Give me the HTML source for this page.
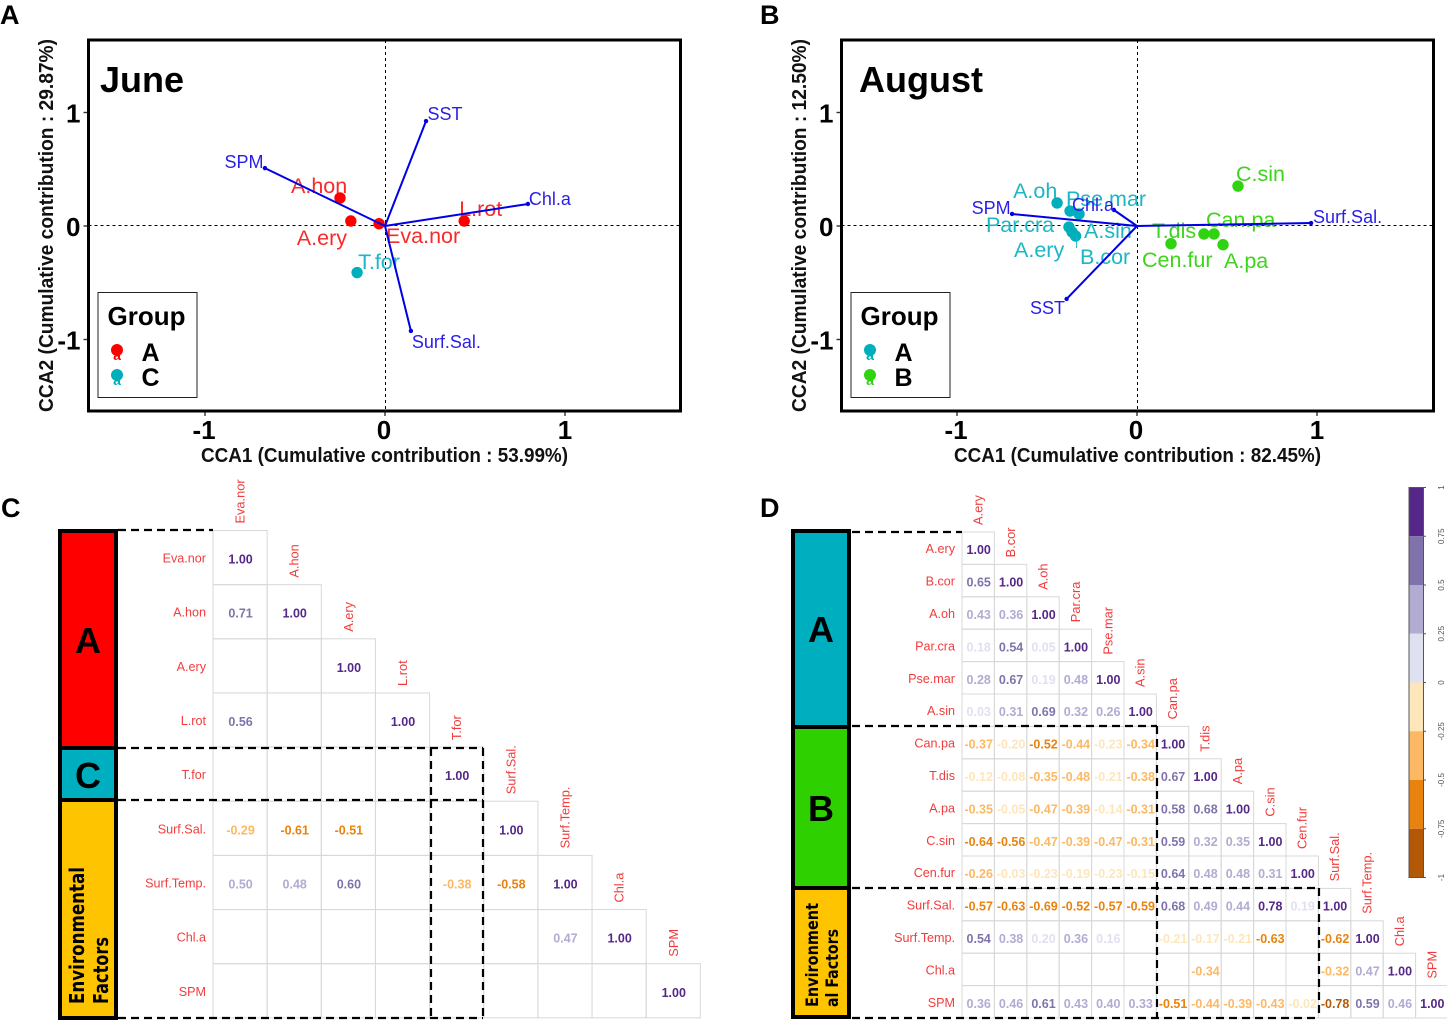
<!DOCTYPE html>
<html lang="en">
<head>
<meta charset="utf-8">
<title>CCA ordination and correlation matrices</title>
<style>
  html, body { margin: 0; padding: 0; background: #fff; }
  svg { display: block; font-family: "Liberation Sans", sans-serif; }
</style>
</head>
<body>
<svg id="figure" xmlns="http://www.w3.org/2000/svg" width="1447" height="1023" viewBox="0 0 1447 1023">
  <rect width="1447" height="1023" fill="#fff"/>

  <text x="0" y="24" font-size="27" font-weight="bold">A</text>
  <text x="760" y="24" font-size="27" font-weight="bold">B</text>
  <text x="1" y="517" font-size="27" font-weight="bold">C</text>
  <text x="760" y="517" font-size="27" font-weight="bold">D</text>

  <g id="june-plot"></g>
  <g id="august-plot"></g>

  <text x="100" y="92" font-size="36" font-weight="bold">June</text>
  <text x="859" y="92" font-size="36" font-weight="bold">August</text>

  <text x="201" y="462" font-size="20" font-weight="bold" textLength="367" lengthAdjust="spacingAndGlyphs" fill="#111">CCA1 (Cumulative contribution : 53.99%)</text>
  <text x="954" y="462" font-size="20" font-weight="bold" textLength="367" lengthAdjust="spacingAndGlyphs" fill="#111">CCA1 (Cumulative contribution : 82.45%)</text>
  <text transform="translate(53,412) rotate(-90)" font-size="20" font-weight="bold" textLength="373" lengthAdjust="spacingAndGlyphs" fill="#111">CCA2 (Cumulative contribution : 29.87%)</text>
  <text transform="translate(806,412) rotate(-90)" font-size="20" font-weight="bold" textLength="373" lengthAdjust="spacingAndGlyphs" fill="#111">CCA2 (Cumulative contribution : 12.50%)</text>

  <!-- Panel C group bars -->
  <g>
    <rect x="60" y="531" width="56" height="217" fill="#ff0000" stroke="#000" stroke-width="4"/>
    <rect x="60" y="748" width="56" height="52" fill="#00afbf" stroke="#000" stroke-width="4"/>
    <rect x="60" y="800" width="56" height="218" fill="#ffc400" stroke="#000" stroke-width="4"/>
    <text x="88" y="653" font-size="36" font-weight="bold" text-anchor="middle">A</text>
    <text x="88" y="788" font-size="36" font-weight="bold" text-anchor="middle">C</text>
    <text transform="translate(84,1004) rotate(-90)" font-family="DejaVu Sans, sans-serif" font-size="20" font-weight="bold" textLength="137" lengthAdjust="spacingAndGlyphs">Environmental</text>
    <text transform="translate(108,1004) rotate(-90)" font-family="DejaVu Sans, sans-serif" font-size="20" font-weight="bold" textLength="67" lengthAdjust="spacingAndGlyphs">Factors</text>
  </g>

  <!-- Panel D group bars -->
  <g>
    <rect x="793" y="531" width="56" height="196" fill="#00afbf" stroke="#000" stroke-width="4"/>
    <rect x="793" y="727" width="56" height="161" fill="#2fd000" stroke="#000" stroke-width="4"/>
    <rect x="793" y="888" width="56" height="129" fill="#ffc400" stroke="#000" stroke-width="4"/>
    <text x="821" y="642" font-size="36" font-weight="bold" text-anchor="middle">A</text>
    <text x="821" y="821" font-size="36" font-weight="bold" text-anchor="middle">B</text>
    <text transform="translate(818,1007) rotate(-90)" font-family="DejaVu Sans, sans-serif" font-size="17" font-weight="bold" textLength="104" lengthAdjust="spacingAndGlyphs">Environment</text>
    <text transform="translate(838,1007) rotate(-90)" font-family="DejaVu Sans, sans-serif" font-size="17" font-weight="bold" textLength="78" lengthAdjust="spacingAndGlyphs">al Factors</text>
  </g>

  <g id="matrix-c"></g>
  <g id="matrix-d"></g>

  <!-- Dashed group outlines -->
  <g fill="none" stroke="#000" stroke-width="2.2" stroke-dasharray="8 5">
    <path d="M118 530H213M118 748H483M118 800H483M118 1018H483"/>
    <path d="M431 748V1018M483 748V1018"/>
  </g>
  <g fill="none" stroke="#000" stroke-width="2.2" stroke-dasharray="8 5">
    <path d="M852 532H962M852 726H1157M852 888H1319M852 1018H1319"/>
    <path d="M1157 726V1018M1319 888V1018"/>
  </g>

  <g id="colorbar"></g>
</svg>

<script>
/* ---------- Panel A (June) data ---------- */
const juneSpecies = ["A.hon", "A.ery", "Eva.nor", "L.rot", "T.for"];
const juneSpeciesCca1 = [-0.25, -0.19, -0.033, 0.44, -0.155];
const juneSpeciesCca2 = [0.247, 0.044, 0.02, 0.044, -0.41];
const juneSpeciesGroup = ["A", "A", "A", "A", "C"];
const juneEnvVars = ["SST", "SPM", "Chl.a", "Surf.Sal."];
const juneEnvCca1 = [0.228, -0.667, 0.794, 0.144];
const juneEnvCca2 = [0.925, 0.51, 0.194, -0.925];
const juneLegendGroups = ["A", "C"];

/* ---------- Panel B (August) data ---------- */
const augustSpecies = ["A.oh", "Pse.mar", "A.sin", "Par.cra", "A.ery", "B.cor", "C.sin", "T.dis", "Can.pa", "Cen.fur", "A.pa"];
const augustSpeciesCca1 = [-0.444, -0.372, -0.322, -0.378, -0.361, -0.341, 0.561, 0.372, 0.428, 0.189, 0.478];
const augustSpeciesCca2 = [0.203, 0.132, 0.106, -0.009, -0.053, -0.088, 0.352, -0.07, -0.07, -0.156, -0.165];
const augustSpeciesGroup = ["A", "A", "A", "A", "A", "A", "B", "B", "B", "B", "B"];
const augustEnvVars = ["SPM", "Chl.a", "SST", "Surf.Sal."];
const augustEnvCca1 = [-0.694, -0.128, -0.391, 0.967];
const augustEnvCca2 = [0.106, 0.141, -0.643, 0.026];
const augustLegendGroups = ["A", "B"];

const ccaTicks = [-1, 0, 1];

/* ---------- Panel C (June correlations) data ---------- */
const juneMatrixNames = ["Eva.nor", "A.hon", "A.ery", "L.rot", "T.for", "Surf.Sal.", "Surf.Temp.", "Chl.a", "SPM"];
const juneMatrixRows = [
  [1.00],
  [0.71, 1.00],
  [null, null, 1.00],
  [0.56, null, null, 1.00],
  [null, null, null, null, 1.00],
  [-0.29, -0.61, -0.51, null, null, 1.00],
  [0.50, 0.48, 0.60, null, -0.38, -0.58, 1.00],
  [null, null, null, null, null, null, 0.47, 1.00],
  [null, null, null, null, null, null, null, null, 1.00]
];

/* ---------- Panel D (August correlations) data ---------- */
const augustMatrixNames = ["A.ery", "B.cor", "A.oh", "Par.cra", "Pse.mar", "A.sin", "Can.pa", "T.dis", "A.pa", "C.sin", "Cen.fur", "Surf.Sal.", "Surf.Temp.", "Chl.a", "SPM"];
const augustMatrixRows = [
  [1.00],
  [0.65, 1.00],
  [0.43, 0.36, 1.00],
  [0.18, 0.54, 0.05, 1.00],
  [0.28, 0.67, 0.19, 0.48, 1.00],
  [0.03, 0.31, 0.69, 0.32, 0.26, 1.00],
  [-0.37, -0.20, -0.52, -0.44, -0.23, -0.34, 1.00],
  [-0.12, -0.08, -0.35, -0.48, -0.21, -0.38, 0.67, 1.00],
  [-0.35, -0.05, -0.47, -0.39, -0.14, -0.31, 0.58, 0.68, 1.00],
  [-0.64, -0.56, -0.47, -0.39, -0.47, -0.31, 0.59, 0.32, 0.35, 1.00],
  [-0.26, -0.03, -0.23, -0.19, -0.23, -0.15, 0.64, 0.48, 0.48, 0.31, 1.00],
  [-0.57, -0.63, -0.69, -0.52, -0.57, -0.59, 0.68, 0.49, 0.44, 0.78, 0.19, 1.00],
  [0.54, 0.38, 0.20, 0.36, 0.16, null, -0.21, -0.17, -0.21, -0.63, null, -0.62, 1.00],
  [null, null, null, null, null, null, null, -0.34, null, null, null, -0.32, 0.47, 1.00],
  [0.36, 0.46, 0.61, 0.43, 0.40, 0.33, -0.51, -0.44, -0.39, -0.43, -0.02, -0.78, 0.59, 0.46, 1.00]
];

/* ---------- Colour scale ---------- */
const colorbarTickValues = [1, 0.75, 0.5, 0.25, 0, -0.25, -0.5, -0.75, -1];
const colorbarTickLabels = ["1", "0.75", "0.5", "0.25", "0", "-0.25", "-0.5", "-0.75", "-1"];
const colorbarBins = ["#542788", "#8073ac", "#b2abd2", "#e0e1f0", "#fee6bb", "#fdb863", "#e8830f", "#b35806"];

/* ---------- Helpers ---------- */
const SVG_NS = "http://www.w3.org/2000/svg";

function make(parent, tag, attrs, name, interact) {
  const el = document.createElementNS(SVG_NS, tag);
  for (const key in attrs) {
    el.setAttribute(key, attrs[key]);
  }
  
  
  parent.appendChild(el);
  return el;
}

function slug(text) {
  return String(text).toLowerCase().replace(/[^a-z0-9]+/g, '-').replace(/^-|-$/g, '');
}

function binColor(value) {
  const idx = Math.min(colorbarBins.length - 1, Math.max(0, Math.floor((1 - value) / 2 * colorbarBins.length)));
  return colorbarBins[idx];
}

/* ---------- CCA biplot ---------- */
function drawCca(cfg) {
  const root = document.getElementById(cfg.id);
  const xScale = v => cfg.x0 + v * 180;
  const yScale = v => 226 - v * 113.5;

  make(root, 'line', { x1: cfg.left, x2: cfg.left + 592, y1: yScale(0) - 0.5, y2: yScale(0) - 0.5, stroke: '#000', 'stroke-width': 1, 'stroke-dasharray': '3 3' }, 'zero-line-horizontal');
  make(root, 'line', { x1: xScale(0) + 0.5, x2: xScale(0) + 0.5, y1: 40, y2: 411, stroke: '#000', 'stroke-width': 1, 'stroke-dasharray': '3 3' }, 'zero-line-vertical');

  ccaTicks.forEach(t => {
    const tx = xScale(t);
    const ty = yScale(t);
    make(root, 'line', { x1: tx, x2: tx, y1: 411, y2: 416, stroke: '#333', 'stroke-width': 1.4 }, 'x-tick-' + slug(t));
    make(root, 'line', { x1: cfg.left - 5, x2: cfg.left, y1: ty, y2: ty, stroke: '#333', 'stroke-width': 1.4 }, 'y-tick-' + slug(t));
    const xl = make(root, 'text', { x: tx - (t < 0 ? 1 : (t > 0 ? 0 : 1)), y: 439, 'text-anchor': 'middle', 'font-size': 26, 'font-weight': 'bold' }, 'x-tick-label-' + slug(t));
    xl.textContent = t;
    const yl = make(root, 'text', { x: cfg.left - 8, y: ty + 10, 'text-anchor': 'end', 'font-size': 26, 'font-weight': 'bold' }, 'y-tick-label-' + slug(t));
    yl.textContent = t;
  });

  cfg.species.forEach((name, i) => {
    const px = xScale(cfg.sx[i]);
    const py = yScale(cfg.sy[i]);
    const color = cfg.groupColors[cfg.groups[i]];
    make(root, 'circle', { cx: px, cy: py, r: 5.7, fill: color }, 'species-point-' + slug(name));
  });
  cfg.species.forEach((name, i) => {
    const px = xScale(cfg.sx[i]);
    const py = yScale(cfg.sy[i]);
    const n = cfg.speciesNudge[name];
    const lab = make(root, 'text', { x: px + n[0], y: py + n[1], 'font-size': 21.5, fill: cfg.labelColors[cfg.groups[i]] }, 'species-label-' + slug(name));
    lab.textContent = name;
    if (cfg.connectors && cfg.connectors[name]) {
      make(root, 'line', { x1: px + 1, y1: py, x2: px + 1 + cfg.connectors[name][0], y2: py + cfg.connectors[name][1], stroke: cfg.labelColors[cfg.groups[i]], 'stroke-width': 1 }, 'species-connector-' + slug(name));
    }
  });

  cfg.env.forEach((name, i) => {
    const ex = xScale(cfg.ex[i]);
    const ey = yScale(cfg.ey[i]);
    make(root, 'line', { x1: xScale(0), y1: yScale(0), x2: ex, y2: ey, stroke: '#0000e6', 'stroke-width': 2 }, 'env-arrow-' + slug(name));
    make(root, 'circle', { cx: ex, cy: ey, r: 2.2, fill: '#0000e6' }, 'env-arrow-head-' + slug(name));
    const n = cfg.envNudge[name];
    const lab = make(root, 'text', { x: ex + n[0], y: ey + n[1], 'font-size': 18, fill: '#2a1ee6' }, 'env-label-' + slug(name));
    lab.textContent = name;
  });

  make(root, 'rect', { x: cfg.left, y: 40, width: 592, height: 371, fill: 'none', stroke: '#000', 'stroke-width': 3 }, 'plot-frame');

  const legend = make(root, 'g', {}, 'legend');
  const lx = cfg.left + 9;
  make(legend, 'rect', { x: lx + 0.5, y: 292.5, width: 99, height: 105, fill: '#fff', stroke: '#222', 'stroke-width': 1 }, 'legend-box');
  const lt = make(legend, 'text', { x: lx + 10, y: 325, 'font-size': 26, 'font-weight': 'bold' }, 'legend-title');
  lt.textContent = 'Group';
  cfg.legendGroups.forEach((g, i) => {
    const cy = 350 + i * 25;
    const key = make(legend, 'text', { x: lx + 19.5, y: cy + 10, 'font-size': 14, 'text-anchor': 'middle', 'font-weight': 'bold', fill: cfg.groupColors[g] }, 'legend-key-letter-' + slug(g));
    key.textContent = 'a';
    make(legend, 'circle', { cx: lx + 19.5, cy: cy, r: 6, fill: cfg.groupColors[g] }, 'legend-key-' + slug(g));
    const lab = make(legend, 'text', { x: lx + 44, y: cy + 11, 'font-size': 25, 'font-weight': 'bold' }, 'legend-label-' + slug(g));
    lab.textContent = g;
  });
}

drawCca({
  id: 'june-plot', x0: 385, left: 88.5,
  species: juneSpecies, sx: juneSpeciesCca1, sy: juneSpeciesCca2, groups: juneSpeciesGroup,
  env: juneEnvVars, ex: juneEnvCca1, ey: juneEnvCca2, legendGroups: juneLegendGroups,
  groupColors: { A: '#ff0000', C: '#00afbb' },
  labelColors: { A: '#f62b2b', C: '#1cb6c4' },
  speciesNudge: { 'A.hon': [-49, -5], 'A.ery': [-54, 24], 'Eva.nor': [7, 19.5], 'L.rot': [-5, -5], 'T.for': [1, -3.5] },
  envNudge: { 'SST': [1.5, -1], 'SPM': [-40.5, 0], 'Chl.a': [1, 1], 'Surf.Sal.': [1, 17] }
});

drawCca({
  id: 'august-plot', x0: 1137, left: 841.5,
  species: augustSpecies, sx: augustSpeciesCca1, sy: augustSpeciesCca2, groups: augustSpeciesGroup,
  env: augustEnvVars, ex: augustEnvCca1, ey: augustEnvCca2, legendGroups: augustLegendGroups,
  groupColors: { A: '#00afbb', B: '#2fd30f' },
  labelColors: { A: '#1cb6c4', B: '#3ed41c' },
  speciesNudge: { 'A.oh': [-44, -5], 'Pse.mar': [-4, -5], 'A.sin': [5, 24], 'Par.cra': [-83, 5], 'A.ery': [-58, 25], 'B.cor': [4.4, 28], 'C.sin': [-2, -5], 'T.dis': [-52, 4], 'Can.pa': [-8, -7], 'Cen.fur': [-29, 23.3], 'A.pa': [1, 23.3] },
  envNudge: { 'SPM': [-40.5, 0], 'Chl.a': [-42, 1], 'SST': [-36.6, 15], 'Surf.Sal.': [2, 0] },
  connectors: { 'B.cor': [0, 12] }
});

/* ---------- Correlation matrices ---------- */
function drawMatrix(cfg) {
  const root = document.getElementById(cfg.id);
  const cellX = j => cfg.x0 + j * cfg.size;
  const cellY = i => cfg.y0 + i * cfg.size;

  cfg.rows.forEach((row, i) => {
    row.forEach((value, j) => {
      make(root, 'rect', { x: cellX(j), y: cellY(i), width: cfg.size, height: cfg.size, fill: 'none', stroke: '#d8d8d8', 'stroke-width': 1 }, 'cell-' + slug(cfg.names[i]) + '-' + slug(cfg.names[j]));
    });
  });
  cfg.rows.forEach((row, i) => {
    const rl = make(root, 'text', { x: cfg.x0 - 7, y: cellY(i) + cfg.size / 2 + 5, 'text-anchor': 'end', 'font-size': 12.6, fill: '#f23c3c' }, 'row-label-' + slug(cfg.names[i]));
    rl.textContent = cfg.names[i];
    const cx = cellX(i) + cfg.size / 2;
    const cy = cellY(i) - 7;
    const cl = make(root, 'text', { transform: 'translate(' + (cx + 4.5) + ',' + cy + ') rotate(-90)', 'font-size': 12.8, fill: '#f23c3c' }, 'column-label-' + slug(cfg.names[i]));
    cl.textContent = cfg.names[i];
    row.forEach((value, j) => {
      if (value === null) return;
      const vt = make(root, 'text', { x: cellX(j) + cfg.size / 2 + 0.5, y: cellY(i) + cfg.size / 2 + 6, 'text-anchor': 'middle', 'font-size': 12.5, 'font-weight': 'bold', fill: binColor(value) }, 'value-' + slug(cfg.names[i]) + '-' + slug(cfg.names[j]));
      vt.textContent = value.toFixed(2);
    });
  });
}

drawMatrix({ id: 'matrix-c', x0: 213, y0: 530.5, size: 54.15, names: juneMatrixNames, rows: juneMatrixRows });
drawMatrix({ id: 'matrix-d', x0: 962, y0: 532, size: 32.4, names: augustMatrixNames, rows: augustMatrixRows });

/* ---------- Colorbar ---------- */
(function drawColorbar() {
  const root = document.getElementById('colorbar');
  const top = 487.5;
  const height = 390;
  const barX = 1409;
  const barW = 14.5;
  const scale = v => top + (1 - v) / 2 * height;
  colorbarBins.forEach((color, i) => {
    const hi = 1 - i * 2 / colorbarBins.length;
    const lo = hi - 2 / colorbarBins.length;
    make(root, 'rect', { x: barX, y: scale(hi), width: barW, height: scale(lo) - scale(hi), fill: color }, 'colorbar-bin-' + (i + 1));
  });
  make(root, 'rect', { x: barX, y: top, width: barW, height: height, fill: 'none', stroke: '#555', 'stroke-width': 1 }, 'colorbar-frame');
  colorbarTickValues.forEach((v, i) => {
    const y = scale(v);
    make(root, 'line', { x1: barX + barW, x2: barX + barW + 2.5, y1: y, y2: y, stroke: '#555', 'stroke-width': 1 }, 'colorbar-tick-' + (i + 1));
    const t = make(root, 'text', { transform: 'translate(1444,' + y + ') rotate(-90)', 'text-anchor': 'middle', 'font-size': 8, fill: '#555' }, 'colorbar-tick-label-' + (i + 1));
    t.textContent = colorbarTickLabels[i];
  });
})();
</script>
</body>
</html>
